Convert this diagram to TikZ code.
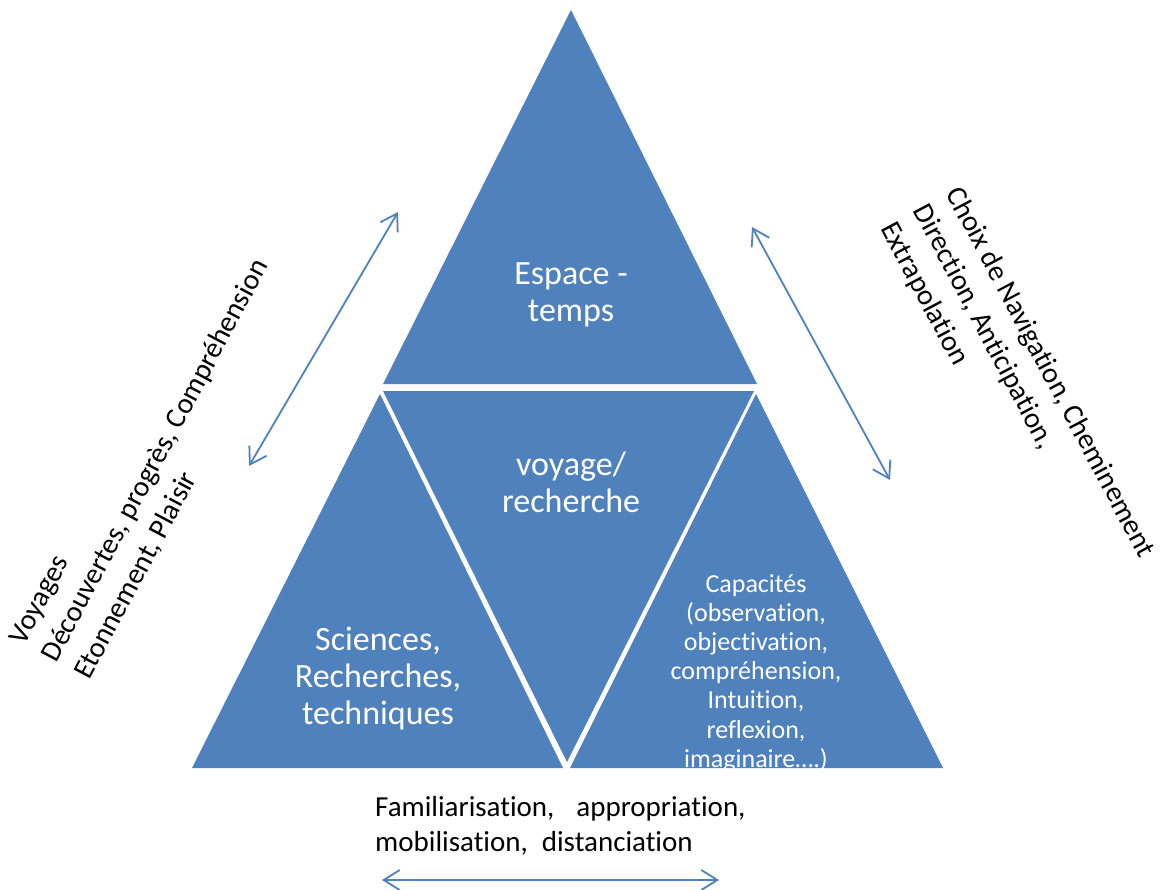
\documentclass[tikz,border=0pt]{standalone}
\usepackage{fontspec}
\setmainfont{Carlito}[Ligatures={NoCommon,NoRequired}]
\usepackage{xcolor}
\usepackage{tikz}
\usetikzlibrary{shapes,arrows,arrows.meta,positioning,fit,calc}
\definecolor{triblue}{HTML}{4F81BD}

\begin{document}
\begin{tikzpicture}[
    x=1pt, y=-1pt,
    tri/.style={fill=triblue, draw=none},
    bigtext/.style={text=white, align=center, inner sep=0pt, font=\fontsize{34}{37}\selectfont},
    smalltext/.style={text=white, align=center, inner sep=0pt, font=\fontsize{26}{29.2}\selectfont},
    sidetext/.style={text=black, align=left, inner sep=0pt, font=\fontsize{29}{37}\selectfont},
    bottomtext/.style={text=black, align=left, inner sep=0pt, font=\fontsize{29}{35}\selectfont},
    dblarrow/.style={draw=triblue, line width=1.8pt,
        {Straight Barb[length=16pt,width=20pt]}-{Straight Barb[length=16pt,width=20pt]}}
]
\useasboundingbox (0,0) rectangle (1164,890);

% the four triangles
\fill[tri] (571,10) -- (383,384) -- (757,384) -- cycle;
\fill[tri] (383,391) -- (754,391) -- (567,762) -- cycle;
\fill[tri] (380,394) -- (192,768) -- (563,768) -- cycle;
\fill[tri] (756,394) -- (570,768) -- (943,768) -- cycle;

% texts inside
\node[bigtext] (espace) at (571,295) {Espace -\\temps};
\node[bigtext] (voyage) at (571,482) {voyage/\\recherche};
\node[bigtext] (sciences) at (378,679) {Sciences,\\Recherches,\\techniques};
\node[smalltext] (capacites) at (756,673) {Capacités\\(observation,\\objectivation,\\compréhension,\\Intuition,\\reflexion,\\imaginaire….)};

% side labels
\node[sidetext, rotate=62] (leftlab) at (156,461)
    {Voyages\\Découvertes, progrès, Compréhension\\Etonnement, Plaisir};
\node[sidetext, rotate=-62] (rightlab) at (1017,390)
    {Choix de Navigation, Cheminement\\Direction, Anticipation,\\Extrapolation};
\node[bottomtext, anchor=west] (familiar) at (375,826)
    {Familiarisation,\hspace{22pt}appropriation,\\mobilisation,\hspace{14pt}distanciation};

% arrows
\coordinate (leftlow) at (249,466);
\coordinate (lefthigh) at (398,212);
\coordinate (righthigh) at (752,227);
\coordinate (rightlow) at (890,480);
\coordinate (bottomleft) at (382,880);
\coordinate (bottomright) at (719,880);
\draw[dblarrow] (leftlow) -- (lefthigh);
\draw[dblarrow] (righthigh) -- (rightlow);
\draw[dblarrow] (bottomleft) -- (bottomright);
\end{tikzpicture}
\end{document}
